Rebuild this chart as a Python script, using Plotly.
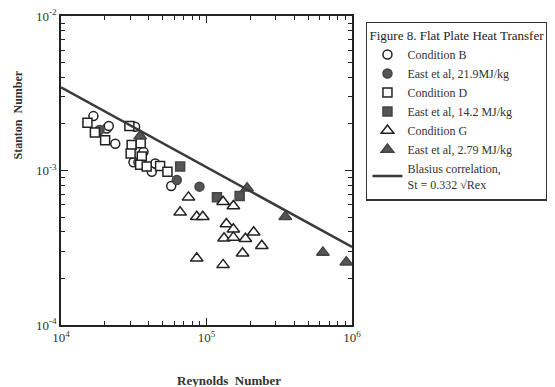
import plotly.graph_objects as go

# ---- data ----
condB_re = [1.67e4, 2.06e4, 2.13e4, 2.36e4, 3.23e4, 3.69e4, 3.15e4, 4.21e4, 4.44e4, 5.72e4]
condB_st = [2.25e-3, 1.87e-3, 1.94e-3, 1.49e-3, 1.92e-3, 1.32e-3, 1.13e-3, 9.8e-4, 1.11e-3, 7.94e-4]

east219_re = [1.84e4, 3.40e4, 6.25e4, 8.95e4]
east219_st = [1.83e-3, 1.13e-3, 8.69e-4, 7.86e-4]

condD_re = [1.52e4, 1.71e4, 2.01e4, 2.95e4, 3.06e4, 3.01e4, 3.53e4, 3.59e4, 3.50e4, 3.88e4, 4.80e4, 5.39e4]
condD_st = [2.04e-3, 1.76e-3, 1.57e-3, 1.94e-3, 1.46e-3, 1.29e-3, 1.50e-3, 1.23e-3, 1.09e-3, 1.06e-3, 1.07e-3, 9.8e-4]

east142_re = [6.59e4, 1.18e5, 1.69e5]
east142_st = [1.06e-3, 6.70e-4, 6.84e-4]

condG_re = [7.52e4, 6.59e4, 8.57e4, 9.43e4, 1.30e5, 1.53e5, 1.37e5, 1.53e5, 1.32e5, 1.53e5,
            1.85e5, 2.11e5, 2.40e5, 1.77e5, 8.57e4, 1.30e5]
condG_st = [6.70e-4, 5.36e-4, 5.02e-4, 5.02e-4, 6.28e-4, 5.89e-4, 4.51e-4, 4.16e-4, 3.64e-4, 3.69e-4,
            3.62e-4, 3.98e-4, 3.26e-4, 2.91e-4, 2.70e-4, 2.45e-4]

east279_re = [3.50e4, 1.90e5, 3.48e5, 6.31e5, 9.14e5]
east279_st = [1.67e-3, 7.67e-4, 5.02e-4, 2.95e-4, 2.55e-4]

blasius_re = [1e4, 1e6]
blasius_st = [3.45e-3, 3.2e-4]

x_tickvals = [1e4, 1e5, 1e6]
x_ticktext = ["10<sup>4</sup>", "10<sup>5</sup>", "10<sup>6</sup>"]
y_tickvals = [1e-4, 1e-3, 1e-2]
y_ticktext = ["10<sup>-4</sup>", "10<sup>-3</sup>", "10<sup>-2</sup>"]

x_minor = [m * 10 ** e for e in (4, 5) for m in range(2, 10)]
y_minor = [m * 10 ** e for e in (-4, -3) for m in range(2, 10)]

FONT = "Liberation Serif"
DARK = "#222222"
FILL = "#555555"

fig = go.Figure()

def add(name, x, y, symbol, filled, size):
    marker = dict(symbol=symbol, size=size,
                  color=FILL if filled else "white",
                  line=dict(color=DARK if not filled else "#444444", width=1.5))
    fig.add_trace(go.Scatter(x=x, y=y, mode="markers", name=name, marker=marker))

add("Condition B", condB_re, condB_st, "circle", False, 9)
add("East et al, 21.9MJ/kg", east219_re, east219_st, "circle", True, 9)
add("Condition D", condD_re, condD_st, "square", False, 9)
add("East et al, 14.2 MJ/kg", east142_re, east142_st, "square", True, 9)
add("Condition G", condG_re, condG_st, "triangle-up", False, 11)
add("East et al, 2.79 MJ/kg", east279_re, east279_st, "triangle-up", True, 11)

fig.add_trace(go.Scatter(x=blasius_re, y=blasius_st, mode="lines",
                         name="Blasius correlation,<br>St = 0.332 √Rex",
                         line=dict(color="#3a3a3a", width=2.5)))

axis_common = dict(type="log", showline=True, linecolor=DARK, linewidth=1.5,
                   mirror="ticks", ticks="inside", ticklen=7, tickwidth=1.2, tickcolor=DARK,
                   showgrid=False, zeroline=False, ticklabeloverflow="allow",
                   tickfont=dict(family=FONT, size=13, color="#333333"))

fig.update_xaxes(**axis_common, range=[4, 6], tickmode="array",
                 tickvals=x_tickvals, ticktext=x_ticktext,
                 minor=dict(tickmode="array", tickvals=x_minor, ticks="inside",
                            ticklen=4, tickcolor=DARK, showgrid=False))
fig.update_yaxes(**axis_common, range=[-4, -2], tickmode="array",
                 tickvals=y_tickvals, ticktext=y_ticktext,
                 minor=dict(tickmode="array", tickvals=y_minor, ticks="inside",
                            ticklen=4, tickcolor=DARK, showgrid=False))

fig.add_annotation(text="<b>Stanton  Number</b>", xref="paper", yref="paper",
                   x=-0.148, y=0.681, textangle=-90, showarrow=False,
                   xanchor="center", yanchor="middle",
                   font=dict(family=FONT, size=12, color="#333333"))
fig.add_annotation(text="<b>Reynolds  Number</b>", xref="paper", yref="paper",
                   x=0.577, y=-0.178, showarrow=False, xanchor="center", yanchor="middle",
                   font=dict(family=FONT, size=13, color="#333333"))

fig.update_layout(
    width=547, height=379,
    margin=dict(l=53, r=203, t=8, b=62, autoexpand=False),
    paper_bgcolor="white", plot_bgcolor="white",
    showlegend=True,
    legend=dict(
        title=dict(text="Figure 8. Flat Plate Heat Transfer",
                   font=dict(family=FONT, size=13, color="#222222")),
        font=dict(family=FONT, size=12, color="#333333"),
        x=1.048, xanchor="left", y=0.982, yanchor="top",
        bordercolor="#333333", borderwidth=1.5, bgcolor="white",
        itemwidth=30, tracegroupgap=0,
    ),
)

fig.write_html("out.html")
